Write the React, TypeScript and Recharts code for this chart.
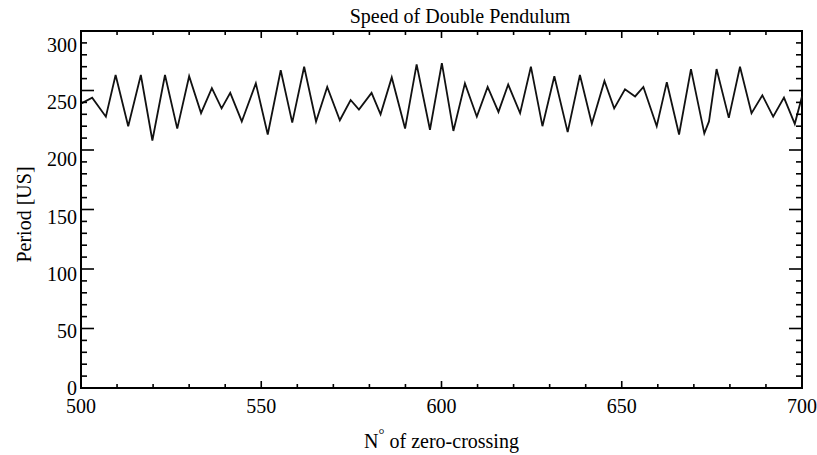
import { LineChart, Line, XAxis, YAxis, ReferenceArea, Label } from 'recharts'

// zero-crossing number (peaks and troughs)
const crossing = [
  500, 503.1, 506.9, 509.6, 513.1, 516.6, 519.8, 523.3, 526.7, 530, 533.3, 536.3, 539, 541.4,
  544.6, 548.5, 551.8, 555.4, 558.6, 561.9, 565.2, 568.3, 571.8, 574.8, 577.1, 580.6, 583.1,
  586.2, 589.9, 593.1, 596.8, 600.1, 603.3, 606.5, 609.8, 612.8, 615.8, 618.5, 621.8, 624.8,
  628, 631.3, 635, 638.4, 641.7, 645.2, 647.9, 650.9, 653.7, 656, 659.7, 662.5, 665.9, 669.2,
  672.9, 674.2, 676.3, 679.7, 682.8, 686, 689, 692, 695, 698, 700,
]
const period = [
  239, 244, 228, 263, 220, 263, 208, 263, 218, 262, 231, 252, 235, 248,
  224, 256, 213, 267, 223, 270, 224, 253, 225, 242, 234, 248, 230,
  261, 218, 272, 217, 273, 216, 256, 228, 253, 232, 255, 231, 270,
  220, 262, 215, 263, 222, 258, 235, 251, 245, 253, 220, 257, 213, 268,
  214, 224, 268, 227, 270, 231, 246, 228, 244, 222, 245,
]

const xTicks = [
  500, 510, 520, 530, 540, 550, 560, 570, 580, 590, 600, 610, 620, 630, 640, 650, 660, 670, 680,
  690, 700,
]
const xMajor = [500, 550, 600, 650, 700]
const yTicks = [
  0, 10, 20, 30, 40, 50, 60, 70, 80, 90, 100, 110, 120, 130, 140, 150, 160, 170, 180, 190, 200,
  210, 220, 230, 240, 250, 260, 270, 280, 290, 300,
]
const yMajor = [0, 50, 100, 150, 200, 250, 300]

const data = crossing.map((x, i) => ({ x, period: period[i] }))

const PLOT_TOP = 31
const PLOT_RIGHT = 802
const FONT = '"Liberation Serif", "Times New Roman", serif'

const XTick = (props: any) => {
  const { x, y, payload } = props
  const major = xMajor.includes(payload.value)
  const len = major ? 7 : 4
  return (
    <g>
      <line x1={x} x2={x} y1={y} y2={y - len} stroke="#000" strokeWidth={1.6} />
      <line x1={x} x2={x} y1={PLOT_TOP} y2={PLOT_TOP + len} stroke="#000" strokeWidth={1.6} />
      {major && (
        <text x={x} y={y + 25} textAnchor="middle" fontFamily={FONT} fontSize={20} fill="#000">
          {payload.value}
        </text>
      )}
    </g>
  )
}

const YTick = (props: any) => {
  const { x, y, payload } = props
  const major = yMajor.includes(payload.value)
  const len = major ? 13 : 6
  return (
    <g>
      <line x1={x} x2={x + len} y1={y} y2={y} stroke="#000" strokeWidth={1.6} />
      <line x1={PLOT_RIGHT - len} x2={PLOT_RIGHT} y1={y} y2={y} stroke="#000" strokeWidth={1.6} />
      {major && (
        <text
          x={x - 4}
          y={y + payload.value * 0.047}
          dominantBaseline="central"
          textAnchor="end"
          fontFamily={FONT}
          fontSize={20}
          fill="#000"
        >
          {payload.value}
        </text>
      )}
    </g>
  )
}

const App = () => {
  return (
    <div style={{ position: 'absolute', left: 0, top: 0, width: 817, height: 455, background: '#fff' }}>
      <div
        style={{
          position: 'absolute',
          left: 310,
          width: 300,
          top: 6,
          lineHeight: '20px',
          textAlign: 'center',
          fontFamily: FONT,
          fontSize: 20,
          color: '#000',
        }}
      >
        Speed of Double Pendulum
      </div>
      <LineChart
        width={817}
        height={455}
        data={data}
        margin={{ top: 31, right: 15, bottom: 37, left: 40 }}
      >
        <XAxis
          dataKey="x"
          type="number"
          domain={[500, 700]}
          ticks={xTicks}
          interval={0}
          height={30}
          tickSize={0}
          tickMargin={0}
          tickLine={false}
          axisLine={false}
          tick={(p: any) => <XTick {...p} />}
        >
          <Label
            content={({ viewBox }: any) => (
              <text
                x={viewBox.x + viewBox.width / 2}
                y={viewBox.y + 60}
                textAnchor="middle"
                fontFamily={FONT}
                fontSize={20}
                fill="#000"
              >
                <tspan>N</tspan>
                <tspan dy={-9} fontSize={15}>°</tspan>
                <tspan dy={9}> of zero-crossing</tspan>
              </text>
            )}
          />
        </XAxis>
        <YAxis
          type="number"
          domain={[0, 300]}
          ticks={yTicks}
          interval={0}
          width={41}
          tickSize={0}
          tickMargin={0}
          tickLine={false}
          axisLine={false}
          tick={(p: any) => <YTick {...p} />}
        >
          <Label
            content={({ viewBox }: any) => {
              const cx = viewBox.x - 16
              const cy = viewBox.y + viewBox.height / 2 + 5
              return (
                <text
                  x={cx}
                  y={cy}
                  transform={`rotate(-90, ${cx}, ${cy})`}
                  textAnchor="middle"
                  dominantBaseline="central"
                  fontFamily={FONT}
                  fontSize={20}
                  fill="#000"
                >
                  Period [US]
                </text>
              )
            }}
          />
        </YAxis>
        <Line
          dataKey="period"
          type="linear"
          stroke="#111"
          strokeWidth={1.8}
          dot={false}
          isAnimationActive={false}
        />
        <ReferenceArea
          x1={500}
          x2={700}
          y1={0}
          y2={300}
          fill="none"
          fillOpacity={0}
          stroke="#000"
          strokeWidth={2}
          ifOverflow="visible"
        />
      </LineChart>
    </div>
  )
}

export default App
